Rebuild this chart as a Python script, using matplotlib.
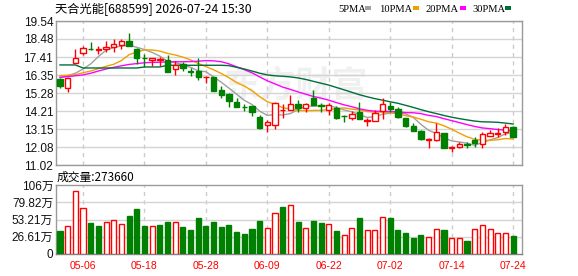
import numpy as np
import matplotlib
matplotlib.use('Agg')
import matplotlib.pyplot as plt
from matplotlib.patches import Rectangle

# ---------------- data ----------------
dates = ['04-28', '04-29', '04-30', '05-06', '05-07', '05-08', '05-11', '05-12', '05-13', '05-14',
         '05-15', '05-18', '05-19', '05-20', '05-21', '05-22', '05-25', '05-26', '05-27', '05-28',
         '05-29', '06-01', '06-02', '06-03', '06-04', '06-05', '06-08', '06-09', '06-10', '06-11',
         '06-12', '06-15', '06-16', '06-17', '06-18', '06-22', '06-23', '06-24', '06-25', '06-26',
         '06-29', '06-30', '07-01', '07-02', '07-03', '07-06', '07-07', '07-08', '07-09', '07-10',
         '07-13', '07-14', '07-15', '07-16', '07-17', '07-20', '07-21', '07-22', '07-23', '07-24']

opens = [16.09, 15.56, 17.04, 17.63, 17.90, 17.84, 17.86, 18.02, 18.12, 18.38,
         17.86, 17.37, 17.23, 17.21, 17.23, 16.68, 16.98, 16.58, 16.58, 16.21,
         16.21, 15.44, 15.24, 14.73, 14.47, 14.49, 13.88, 13.39, 13.39, 14.26,
         14.30, 14.61, 14.37, 14.97, 14.55, 14.28, 14.41, 13.93, 13.82, 14.18,
         13.62, 13.64, 14.24, 14.51, 14.31, 13.82, 13.33, 13.03, 12.50, 12.50,
         12.93, 12.05, 12.07, 12.24, 12.50, 12.26, 12.74, 12.83, 12.95, 13.27]
highs = [16.15, 16.25, 17.90, 18.06, 18.28, 18.06, 18.36, 18.48, 18.48, 18.85,
         17.96, 17.57, 17.37, 17.41, 17.53, 17.17, 17.13, 16.74, 17.37, 16.27,
         16.25, 15.71, 15.26, 14.97, 14.61, 14.53, 13.98, 13.68, 14.73, 14.61,
         15.16, 14.87, 14.67, 15.46, 14.67, 14.67, 14.53, 13.98, 14.22, 14.73,
         13.78, 14.26, 15.00, 14.73, 14.47, 13.82, 13.49, 13.09, 12.64, 13.49,
         12.93, 12.15, 12.40, 12.40, 12.70, 12.95, 13.09, 13.23, 13.43, 13.33]
lows = [15.60, 15.32, 17.04, 17.53, 17.82, 17.57, 17.73, 17.73, 17.90, 18.06,
        16.99, 16.84, 16.90, 16.90, 16.50, 16.35, 16.58, 16.29, 16.05, 15.85,
        15.40, 14.97, 14.47, 14.43, 14.22, 13.94, 13.13, 12.95, 13.15, 13.78,
        14.30, 14.18, 14.18, 14.57, 14.18, 13.98, 13.74, 13.55, 13.68, 13.74,
        13.35, 13.64, 13.74, 14.18, 13.82, 13.29, 13.03, 12.50, 12.05, 12.44,
        12.05, 11.77, 12.01, 12.05, 12.11, 12.05, 12.74, 12.70, 12.80, 12.68]
closes = [15.71, 16.15, 17.35, 17.94, 17.86, 17.88, 18.02, 18.16, 18.36, 18.06,
          17.33, 17.33, 17.33, 17.27, 16.50, 16.94, 16.74, 16.54, 16.23, 16.25,
          15.40, 15.16, 14.81, 14.43, 14.43, 14.18, 13.19, 13.55, 14.67, 14.30,
          14.61, 14.37, 14.61, 14.57, 14.53, 14.57, 13.82, 13.90, 14.02, 13.74,
          13.68, 14.08, 14.61, 14.33, 13.88, 13.33, 13.03, 12.56, 12.56, 12.95,
          12.05, 12.11, 12.24, 12.20, 12.34, 12.83, 12.93, 12.93, 13.29, 12.68]

# volume in 万 (10k)
volumes = [36.0, 43.0, 97.0, 70.5, 47.8, 43.0, 48.9, 52.5, 46.3, 58.6,
           69.4, 43.0, 43.0, 44.7, 49.4, 49.4, 41.6, 37.5, 55.5, 43.0,
           49.4, 41.6, 44.7, 34.0, 30.8, 38.6, 50.9, 40.0, 62.7, 72.5,
           75.6, 49.4, 40.0, 50.9, 47.8, 46.3, 35.5, 29.3, 40.0, 55.5,
           37.0, 37.0, 57.0, 55.5, 37.0, 32.4, 24.7, 29.3, 26.2, 38.6,
           37.0, 24.7, 24.7, 20.0, 38.6, 44.7, 38.6, 32.4, 32.4, 27.366]
vol_up = [0, 1, 1, 1, 0, 0, 1, 1, 1, 0,
          0, 0, 1, 0, 0, 1, 0, 0, 0, 0,
          0, 0, 0, 0, 0, 0, 0, 1, 1, 0,
          1, 0, 1, 0, 0, 1, 0, 1, 1, 0,
          1, 1, 1, 0, 0, 0, 0, 0, 1, 1,
          0, 1, 1, 0, 1, 1, 1, 1, 1, 0]

# moving-average values before enough history exists
ma5_head = [16.20, 16.30, 16.45, 16.70]
ma10_head = [16.31, 16.33, 16.36, 16.48, 16.58, 16.72, 16.86, 16.98, 17.20]
ma20_head = [16.21, 16.25, 16.30, 16.35, 16.45, 16.58, 16.70, 16.80, 16.89, 16.97,
             17.02, 17.07, 17.09, 17.10, 17.12, 17.13, 17.13, 17.14, 17.16]
ma30_head = [16.94, 16.94, 16.94, 16.76, 16.76, 16.76, 16.76, 16.76, 16.76, 16.76,
             16.76, 16.82, 16.82, 16.82, 16.92, 16.92, 16.92, 16.92, 16.92, 16.92,
             16.92, 16.92, 16.90, 16.80, 16.70, 16.58, 16.45, 16.35, 16.30]

price_ticks = ['11.02', '12.08', '13.15', '14.21', '15.28', '16.35', '17.41', '18.48', '19.54']
vol_ticks = [0, 26.61, 53.21, 79.82, 106.43]
vol_tick_labels = ['0', '26.61万', '53.21万', '79.82万', '106万']
xtick_dates = ['05-06', '05-18', '05-28', '06-09', '06-22', '07-02', '07-14', '07-24']

title = '天合光能[688599] 2026-07-24 15:30'
ma_names = ['5PMA', '10PMA', '20PMA', '30PMA']
vol_title = '成交量:273660'

# ---------------- styles ----------------
RED = '#ff0000'
GREEN = '#008000'
MA_COLORS = ['#a0a0a0', '#f0a000', '#ff00ff', '#006e3a']
GRID = '#d4d4d4'
FRAME = '#9a9a9a'

W, H = 578, 276
fig = plt.figure(figsize=(W / 100, H / 100), dpi=100)


def fx(px):
    return px / W


def fy(py):
    return 1 - py / H


L, R = 56, 522
ax = fig.add_axes([fx(L), fy(165), fx(R - L), (165 - 21) / H])
axv = fig.add_axes([fx(L), fy(254), fx(R - L), (254 - 185) / H])

n = len(dates)
x = np.arange(n)
o = np.array(opens); c = np.array(closes); h = np.array(highs); lo = np.array(lows)
up = c >= o
xt = [dates.index(d) for d in xtick_dates]

xlim = (-0.52, 60.16)

# watermark
ax.text(30.8, 15.72, '东方财富', fontsize=26, color='#f0f0f0', ha='center', va='center',
        family=['Noto Sans CJK SC'], fontweight='bold', zorder=0.5)

# grid
pt = [float(v) for v in price_ticks]
pt_pos = np.linspace(pt[0], pt[-1], len(pt))
for yv in pt_pos:
    ax.axhline(yv, color=GRID, lw=1, zorder=1)
for xv in xt:
    ax.axvline(xv, color='#cccccc', lw=1, ls=(0, (3, 3)), zorder=1)
    axv.axvline(xv, color='#cccccc', lw=1, ls=(0, (3, 3)), zorder=1)
for yv in vol_ticks[1:-1]:
    axv.axhline(yv, color=GRID, lw=1, zorder=1)

# moving averages
def moving_avg(nper, head):
    out = np.empty(n)
    out[:nper - 1] = head
    for i in range(nper - 1, n):
        out[i] = np.mean(c[i - nper + 1:i + 1])
    return out

for (per, head), col in zip([(5, ma5_head), (10, ma10_head), (20, ma20_head), (30, ma30_head)], MA_COLORS):
    ax.plot(x, moving_avg(per, head), color=col, lw=1, zorder=2)

# candles
bw = 0.7
cols = np.where(up, RED, GREEN)
ax.vlines(x, lo, h, colors=cols, lw=1, zorder=3)
bottoms = np.minimum(o, c)
heights = np.maximum(np.abs(c - o), 0.025)
ax.bar(x, heights, bottom=bottoms, width=bw,
       color=np.where(up, 'white', GREEN), edgecolor=cols, linewidth=1, zorder=4)

ax.set_xlim(*xlim)
ax.set_ylim(pt[0], pt[-1])
ax.set_yticks(pt_pos)
ax.set_yticklabels(price_ticks)
ax.set_xticks([])

# volume
vcols = np.where(np.array(vol_up) == 1, RED, GREEN)
axv.bar(x, volumes, width=0.66, color=np.where(np.array(vol_up) == 1, 'white', GREEN),
        edgecolor=vcols, linewidth=1, zorder=3)
axv.set_xlim(*xlim)
axv.set_ylim(0, vol_ticks[-1])
axv.set_yticks(vol_ticks)
axv.set_yticklabels(vol_tick_labels)
axv.set_xticks(xt)
axv.set_xticklabels(xtick_dates)

for a in (ax, axv):
    for s in a.spines.values():
        s.set_color(FRAME)
        s.set_linewidth(1)
    a.tick_params(length=0, pad=2)
    for lab in a.get_yticklabels():
        lab.set_family(['Liberation Sans', 'Noto Sans CJK SC'])
        lab.set_fontsize(8.5)
        lab.set_color('#111111')
axv.spines['bottom'].set_color('#808080')
axv.tick_params(axis='x', pad=5)
for lab in axv.get_xticklabels():
    lab.set_family(['Liberation Sans'])
    lab.set_fontsize(7.5)
    lab.set_color(RED)

# texts
fig.text(fx(55), fy(9.5), title, fontsize=8.8, family=['Noto Sans CJK SC'],
         ha='left', va='center', color='#000000')
fig.text(fx(57), fy(177), vol_title, fontsize=8.5, family=['Noto Sans CJK SC'],
         ha='left', va='center', color='#000000')

text_x = [338, 379, 425, 472]
sq_x = [365, 413, 460, 505]
for name, tx, sx, col in zip(ma_names, text_x, sq_x, MA_COLORS):
    fig.text(fx(tx), fy(9), name, fontsize=7.6, family=['Liberation Serif'],
             ha='left', va='center', color='#000000')
    fig.patches.append(Rectangle((fx(sx), fy(10)), 6 / W, 3.5 / H, transform=fig.transFigure,
                                 facecolor=col, edgecolor='none'))

fig.savefig('out.png', dpi=100)
